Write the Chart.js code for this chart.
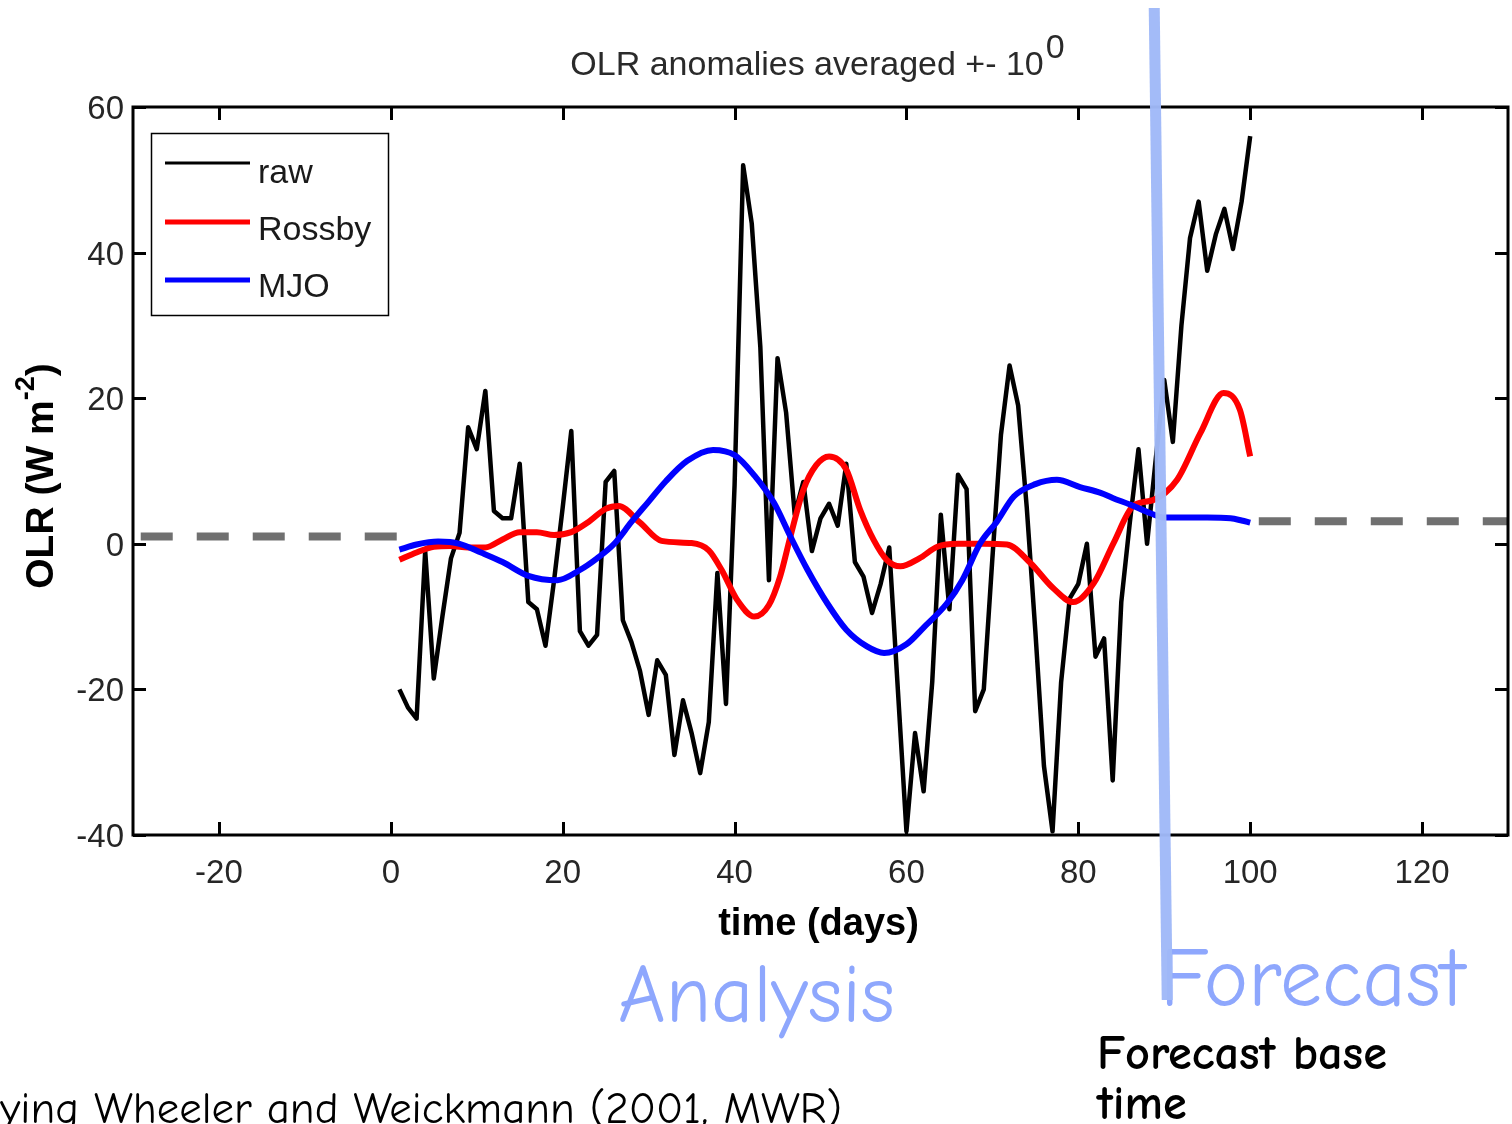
<!DOCTYPE html>
<html>
<head>
<meta charset="utf-8">
<title>OLR anomalies</title>
<script src="https://cdn.jsdelivr.net/npm/chart.js@4.4.1/dist/chart.umd.min.js"></script>
<style>
  html, body { margin: 0; padding: 0; background: #ffffff; }
  #wrap { width: 1512px; height: 1124px; position: relative; overflow: hidden; }
  canvas { display: block; }
</style>
</head>
<body>
<div id="wrap"><canvas id="olr" width="1512" height="1124"></canvas></div>
<script>
// ---- data -------------------------------------------------------------
const rawDays = [
  1, 2, 3, 4, 5, 6, 7, 8, 9, 10,
  11, 12, 13, 14, 15, 16, 17, 18, 19, 20,
  21, 22, 23, 24, 25, 26, 27, 28, 29, 30,
  31, 32, 33, 34, 35, 36, 37, 38, 39, 40,
  41, 42, 43, 44, 45, 46, 47, 48, 49, 50,
  51, 52, 53, 54, 55, 56, 57, 58, 59, 60,
  61, 62, 63, 64, 65, 66, 67, 68, 69, 70,
  71, 72, 73, 74, 75, 76, 77, 78, 79, 80,
  81, 82, 83, 84, 85, 86, 87, 88, 89, 90,
  91, 92, 93, 94, 95, 96, 97, 98, 99, 100
];
const rawOLR = [
  -20, -22.5, -24, -1, -18.5, -10, -2, 1.5, 16, 13,
  21, 4.5, 3.5, 3.5, 11, -8, -9, -14, -5, 5,
  15.5, -12, -14, -12.5, 8.5, 10, -10.5, -13.5, -17.5, -23.5,
  -16, -18, -29, -21.5, -26, -31.5, -24.5, -4, -22, 8,
  52, 44, 27, -5, 25.5, 18, 4, 8.5, -1, 3.5,
  5.5, 2.5, 11, -2.5, -4.5, -9.5, -5.5, -0.5, -20, -39.5,
  -26, -34, -19, 4, -9, 9.5, 7.5, -23, -20, -2,
  15, 24.5, 19, 5, -12, -30.5, -39.5, -19, -7.5, -5.5,
  0, -15.5, -13, -32.5, -8, 3, 13, 0, 11.5, 22.5,
  14, 30, 42, 47, 37.5, 42.5, 46, 40.5, 47, 56
];

const rossbyDays = [
  1, 3, 5, 7, 9, 11, 13, 15, 17, 19, 21, 23, 25, 26.5, 29, 31.5, 35, 37, 38.5,
  40.3, 42.3, 44, 45.3, 46.5, 48, 49.5, 51, 53, 54.6, 56.2, 57.7, 59.3, 61.5,
  63.6, 66, 69, 71.7, 74.4, 77, 79.4, 81.8, 84.1, 86.4, 88.7, 91.5, 94.2, 96.9,
  98.8, 100
];
const rossbyOLR = [
  -2.2, -1.2, -0.4, -0.3, -0.5, -0.5, 0.6, 1.6, 1.6, 1.2, 1.6, 3.0, 4.8, 5.2, 2.9, 0.4, 0.1, -0.9, -3.6,
  -7.7, -10, -8.4, -4.5, 1, 7.4, 10.8, 12, 10.2, 4.7, 0.5, -2.2, -3.1, -2.0,
  -0.4, 0, 0, -0.1, -2.6, -6, -8, -5.4, 0.1, 5.2, 6.0, 8.8, 15.2, 20.7,
  18.4, 12
];

const mjoDays = [
  1, 3, 5.5, 8, 10.5, 13, 16, 19.4, 22, 24, 26, 28, 30, 32, 34.5, 37.5, 40,
  42.3, 44.6, 46.5, 48.5, 50.8, 53, 55.4, 57.4, 60, 62, 64.7, 66.5, 68.6, 70.5,
  72.5, 75, 77.5, 80.2, 82.6, 84, 86, 88.4, 90, 95, 97.7, 99, 100
];
const mjoOLR = [
  -0.8, -0.1, 0.3, 0, -1.2, -2.5, -4.4, -5.0, -3.6, -2.0, 0, 3.0, 5.8, 8.6, 11.4, 12.9, 12.2,
  9.4, 5.6, 1, -3.6, -8.2, -11.8, -14.1, -15, -13.8, -11.5, -8.2, -5, 0.1, 3,
  6.5, 8.2, 8.8, 7.8, 7.0, 6.3, 5.4, 4.2, 3.6, 3.6, 3.5, 3.2, 2.9
];

// grey reference levels either side of the record
const leftRefDays = [-29.1, 0.7];
const leftRefLevel = [1.0, 1.0];
const rightRefDays = [101, 131];
const rightRefLevel = [3.1, 3.1];

const xTickValues = [-20, 0, 20, 40, 60, 80, 100, 120];
const yTickValues = [-40, -20, 0, 20, 40, 60];
const forecastBaseDay = 89.3;

const seriesNames = ['raw', 'Rossby', 'MJO'];
const seriesColors = ['#000000', '#ff0000', '#0000ff'];

// ---- helpers ----------------------------------------------------------
const pts = (xs, ys) => xs.map((v, i) => ({ x: v, y: ys[i] }));
const AXIS_FONT = '"Liberation Sans", Arial, Helvetica, sans-serif';
const HAND_FONT = '"Comic Sans MS", "Comic Neue", "Noto Sans", "Open Sans", sans-serif';

function fitSize(ctx, text, weight, family, targetWidth) {
  ctx.font = weight + ' 100px ' + family;
  return 100 * targetWidth / ctx.measureText(text).width;
}

// box, inward ticks, legend, titles and slide annotations
const decorations = {
  id: 'decorations',
  afterDatasetsDraw(chart) {
    const { ctx, chartArea: a } = chart;
    const xs = chart.scales.x, ys = chart.scales.y;
    ctx.save();

    // axes box
    ctx.strokeStyle = '#000';
    ctx.lineWidth = 3;
    ctx.strokeRect(a.left, a.top, a.right - a.left, a.bottom - a.top);

    // inward tick marks on all four sides
    const TL = 13;
    ctx.beginPath();
    xTickValues.forEach(v => {
      const px = Math.round(xs.getPixelForValue(v)) + 0.5;
      ctx.moveTo(px, a.bottom); ctx.lineTo(px, a.bottom - TL);
      ctx.moveTo(px, a.top); ctx.lineTo(px, a.top + TL);
    });
    yTickValues.forEach(v => {
      const py = Math.round(ys.getPixelForValue(v)) + 0.5;
      ctx.moveTo(a.left, py); ctx.lineTo(a.left + TL, py);
      ctx.moveTo(a.right, py); ctx.lineTo(a.right - TL, py);
    });
    ctx.stroke();

    // legend
    const lx = a.left + 18, ly = a.top + 26;
    ctx.fillStyle = '#fff';
    ctx.fillRect(lx, ly, 237, 182);
    ctx.lineWidth = 1.5;
    ctx.strokeStyle = '#000';
    ctx.strokeRect(lx + 0.5, ly + 0.5, 237, 182);
    const rowLine = [30, 89, 147];
    const rowText = [50, 107, 164];
    const rowWidth = [3, 5, 5];
    ctx.font = '34px ' + AXIS_FONT;
    ctx.textAlign = 'left';
    ctx.textBaseline = 'alphabetic';
    seriesNames.forEach((name, i) => {
      ctx.strokeStyle = seriesColors[i];
      ctx.lineWidth = rowWidth[i];
      ctx.beginPath();
      ctx.moveTo(lx + 14, ly + rowLine[i]);
      ctx.lineTo(lx + 99, ly + rowLine[i]);
      ctx.stroke();
      ctx.fillStyle = '#1a1a1a';
      ctx.fillText(name, lx + 107, ly + rowText[i]);
    });

    // title with superscript
    ctx.fillStyle = '#2a2a2a';
    ctx.font = '34px ' + AXIS_FONT;
    const tMain = 'OLR anomalies averaged +- 10', tSup = '0';
    const w1 = ctx.measureText(tMain).width, w2 = ctx.measureText(tSup).width;
    const tx = (a.left + a.right) / 2 - 3 - (w1 + w2 + 2) / 2;
    ctx.fillText(tMain, tx, a.top - 32);
    ctx.fillText(tSup, tx + w1 + 2, a.top - 49);

    // x axis title
    ctx.fillStyle = '#000';
    ctx.font = 'bold 38px ' + AXIS_FONT;
    ctx.textAlign = 'center';
    ctx.fillText('time (days)', (a.left + a.right) / 2 - 2, a.bottom + 100);

    // y axis title, rotated, with superscript
    ctx.save();
    ctx.translate(53, (a.top + a.bottom) / 2 + 5);
    ctx.rotate(-Math.PI / 2);
    ctx.textAlign = 'left';
    const yMain = 'OLR (W m', ySup = '-2', yEnd = ')';
    ctx.font = 'bold 39px ' + AXIS_FONT;
    const m1 = ctx.measureText(yMain).width, m3 = ctx.measureText(yEnd).width;
    ctx.font = 'bold 27px ' + AXIS_FONT;
    const m2 = ctx.measureText(ySup).width;
    const y0 = -(m1 + m2 + m3) / 2;
    ctx.font = 'bold 39px ' + AXIS_FONT;
    ctx.fillText(yMain, y0, 0);
    ctx.fillText(yEnd, y0 + m1 + m2, 0);
    ctx.font = 'bold 27px ' + AXIS_FONT;
    ctx.fillText(ySup, y0 + m1, -19);
    ctx.restore();

    ctx.restore();
  },
  afterDraw(chart) {
    const { ctx } = chart;
    const xs = chart.scales.x;
    ctx.save();

    // slide annotations
    ctx.textAlign = 'left';
    ctx.textBaseline = 'alphabetic';
    ctx.fillStyle = '#8ea7fd';
    let s = fitSize(ctx, 'Analysis', 'normal', HAND_FONT, 277);
    ctx.font = 'normal ' + s + 'px ' + HAND_FONT;
    ctx.fillText('Analysis', 618, 1022);
    s = fitSize(ctx, 'Forecast', 'normal', HAND_FONT, 305);
    ctx.font = 'normal ' + s + 'px ' + HAND_FONT;
    ctx.fillText('Forecast', 1160, 1006);

    ctx.fillStyle = '#000';
    s = fitSize(ctx, 'Forecast base', 'bold', HAND_FONT, 290);
    ctx.font = 'bold ' + s + 'px ' + HAND_FONT;
    ctx.fillText('Forecast base', 1097, 1069);
    ctx.fillText('time', 1097, 1119);

    const tail = 'ying Wheeler and Weickmann (2001, MWR)';
    s = fitSize(ctx, tail, 'normal', HAND_FONT, 842);
    ctx.font = 'normal ' + s + 'px ' + HAND_FONT;
    ctx.textAlign = 'right';
    ctx.fillText('Applying Wheeler and Weickmann (2001, MWR)', 842, 1123);

    // forecast base time marker (hand drawn, slightly slanted)
    const bx = xs.getPixelForValue(forecastBaseDay);
    ctx.strokeStyle = 'rgba(160,185,248,0.97)';
    ctx.lineWidth = 11;
    ctx.lineCap = 'butt';
    ctx.beginPath();
    ctx.moveTo(bx - 4, 8);
    ctx.lineTo(bx + 9, 1000);
    ctx.stroke();

    ctx.restore();
  }
};

const ctx = document.getElementById('olr').getContext('2d');
new Chart(ctx, {
  type: 'line',
  data: {
    datasets: [
      { label: seriesNames[0], data: pts(rawDays, rawOLR), borderColor: seriesColors[0],
        borderWidth: 4.5, pointRadius: 0, tension: 0, borderJoinStyle: 'round', order: 3 },
      { label: seriesNames[1], data: pts(rossbyDays, rossbyOLR), borderColor: seriesColors[1],
        borderWidth: 6, pointRadius: 0, cubicInterpolationMode: 'monotone', order: 2 },
      { label: seriesNames[2], data: pts(mjoDays, mjoOLR), borderColor: seriesColors[2],
        borderWidth: 6, pointRadius: 0, cubicInterpolationMode: 'monotone', order: 1 },
      { label: 'ref-left', data: pts(leftRefDays, leftRefLevel), borderColor: '#707070',
        borderWidth: 8, borderDash: [32, 24], borderCapStyle: 'butt', pointRadius: 0, order: 4 },
      { label: 'ref-right', data: pts(rightRefDays, rightRefLevel), borderColor: '#707070',
        borderWidth: 8, borderDash: [32, 24], borderCapStyle: 'butt', pointRadius: 0, order: 4 }
    ]
  },
  options: {
    responsive: false,
    animation: false,
    devicePixelRatio: 1,
    layout: { padding: { top: 107, right: 4, left: 0, bottom: 0 } },
    plugins: {
      legend: { display: false },
      tooltip: { enabled: false },
      title: { display: false }
    },
    scales: {
      x: {
        type: 'linear', min: -30, max: 130,
        afterBuildTicks: s => { s.ticks = xTickValues.map(v => ({ value: v })); },
        afterFit: s => { s.height = 289; },
        grid: { display: false, drawTicks: false },
        border: { display: false },
        ticks: { padding: 19, autoSkip: false, maxRotation: 0, color: '#262626',
                 font: { family: AXIS_FONT, size: 33 } }
      },
      y: {
        type: 'linear', min: -40, max: 60,
        afterBuildTicks: s => { s.ticks = yTickValues.map(v => ({ value: v })); },
        afterFit: s => { s.width = 133; },
        grid: { display: false, drawTicks: false },
        border: { display: false },
        ticks: { padding: 9, labelOffset: 3, autoSkip: false, color: '#262626',
                 font: { family: AXIS_FONT, size: 33 } }
      }
    }
  },
  plugins: [decorations]
});
</script>
</body>
</html>
